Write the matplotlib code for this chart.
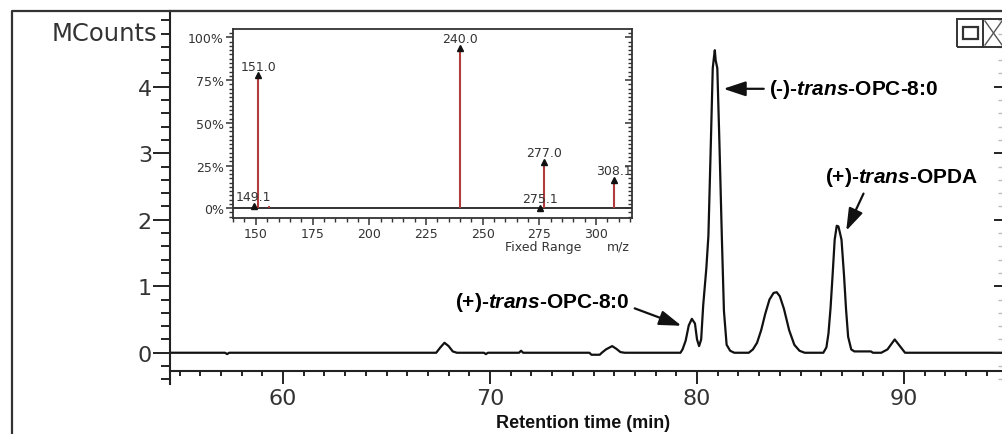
import matplotlib
matplotlib.use("Agg")
import matplotlib.pyplot as plt
from matplotlib.ticker import MultipleLocator, FixedLocator
from matplotlib.lines import Line2D
from matplotlib.patches import Rectangle

plt.rcParams['mathtext.fontset'] = 'custom'
plt.rcParams['mathtext.rm'] = 'Liberation Sans:bold'
plt.rcParams['mathtext.it'] = 'Liberation Sans:italic:bold'
plt.rcParams['mathtext.bf'] = 'Liberation Sans:bold'

# ---------------- data ----------------
rt = [54.5, 57.2, 57.3, 57.4, 67.4, 67.6, 67.8, 68.0, 68.2, 68.4,
      69.7, 69.8, 69.9, 71.4, 71.5, 71.6, 74.8, 74.9, 75.3, 75.4,
      75.6, 75.9, 76.1, 76.3, 76.5, 79.2, 79.3, 79.45, 79.6, 79.75,
      79.9, 80.0, 80.1, 80.2, 80.3, 80.45, 80.55, 80.67, 80.76, 80.82,
      80.86, 80.9, 80.98, 81.08, 81.2, 81.3, 81.43, 81.6, 81.8, 82.5,
      82.7, 82.9, 83.1, 83.3, 83.5, 83.7, 83.85, 84.0, 84.2, 84.45,
      84.7, 84.95, 85.2, 86.1, 86.25, 86.35, 86.45, 86.55, 86.65, 86.75,
      86.83, 86.9, 86.98, 87.1, 87.2, 87.3, 87.45, 87.6, 88.4, 88.5,
      88.9, 89.2, 89.55, 89.8, 90.05, 94.9]
mcounts = [0.0, 0.0, -0.02, 0.0, 0.0, 0.08, 0.15, 0.1, 0.02, 0.0,
           0.0, -0.02, 0.0, 0.0, 0.03, 0.0, 0.0, -0.03, -0.03, 0.0,
           0.05, 0.1, 0.06, 0.01, 0.0, 0.0, 0.05, 0.18, 0.41, 0.51,
           0.44, 0.2, 0.1, 0.2, 0.72, 1.27, 1.76, 3.18, 4.28, 4.45,
           4.55, 4.4, 4.28, 3.18, 1.73, 0.63, 0.12, 0.03, 0.0, 0.0,
           0.05, 0.15, 0.34, 0.59, 0.8, 0.9, 0.91, 0.85, 0.66, 0.34,
           0.12, 0.03, 0.0, 0.0, 0.08, 0.29, 0.67, 1.17, 1.7, 1.91,
           1.9, 1.81, 1.7, 1.17, 0.65, 0.24, 0.05, 0.02, 0.02, 0.0,
           0.0, 0.05, 0.2, 0.1, 0.0, 0.0]

rt_ticks = [60, 70, 80, 90]
mcount_ticks = [0, 1, 2, 3, 4]

mz_peaks = [149.1, 151.0, 240.0, 275.1, 277.0, 308.1]
rel_abund = [1.5, 77.7, 93.7, 0.3, 27.3, 16.6]
mz_minor = [155.9]
rel_minor = [1.2]
mz_ticks = [150, 175, 200, 225, 250, 275, 300]
pct_ticks = [0, 25, 50, 75, 100]

W, H = 1002, 435
def fx(px):
    return px / W
def fy(py):
    return 1 - py / H

fig = plt.figure(figsize=(W / 100, H / 100), dpi=100)
fig.patch.set_facecolor('white')

dark = '#222222'

# ---------------- main chromatogram ----------------
ax = fig.add_axes([fx(170), fy(385), fx(1004) - fx(170), fy(12) - fy(385)])
ax.plot(rt, mcounts, color='#111111', lw=1.6)
ax.set_xlim(54.54, 94.83)
ax.set_ylim(-0.47, 5.14)
ax.spines['bottom'].set_position(('data', -0.27))
for s in ax.spines.values():
    s.set_color(dark)
    s.set_linewidth(1.5)
ax.xaxis.set_major_locator(FixedLocator(rt_ticks))
ax.xaxis.set_minor_locator(MultipleLocator(1))
ax.yaxis.set_major_locator(FixedLocator(mcount_ticks))
ax.yaxis.set_minor_locator(MultipleLocator(0.2))
ax.tick_params(axis='x', which='major', direction='out', length=9.4, width=1.4,
               labelsize=16, pad=3, colors=dark)
ax.tick_params(axis='x', which='minor', direction='out', length=3.8, width=1.4, colors=dark)
ax.tick_params(axis='y', which='major', direction='out', length=12, width=1.4,
               labelsize=16, pad=1, colors=dark)
ax.tick_params(axis='y', which='minor', direction='out', length=6.5, width=1.4, colors=dark)
for lab in ax.get_xticklabels() + ax.get_yticklabels():
    lab.set_color('#333333')

axr = ax.twinx()
axr.set_ylim(ax.get_ylim())
axr.yaxis.set_major_locator(FixedLocator(mcount_ticks))
axr.yaxis.set_minor_locator(MultipleLocator(0.2))
axr.tick_params(axis='y', which='major', direction='in', length=7, width=1.4,
                labelright=False, colors=dark)
axr.tick_params(axis='y', which='minor', direction='in', length=4, width=1,
                colors='#bbbbbb')
for s in axr.spines.values():
    s.set_visible(False)

ax.text(-0.015, (354 - 34) / 66.5, 'MCounts', transform=ax.get_yaxis_transform(),
        ha='right', va='center', fontsize=17.5, color='#333333')

def tx(px):
    return 60 + (px - 283) / 20.73
def ty(py):
    return (354 - py) / 66.5

arrow = dict(arrowstyle='-|>,head_length=0.9,head_width=0.3', color='#111111', lw=1.6,
             shrinkA=2, shrinkB=0)
ax.annotate('(-)-$\\it{trans}$-OPC-8:0', xy=(tx(724), ty(90)), xytext=(tx(770), ty(90)),
            ha='left', va='center', fontsize=15, fontweight='bold',
            fontfamily='Liberation Sans', arrowprops=dict(arrow, relpos=(0, 0.5)))
ax.annotate('(+)-$\\it{trans}$-OPDA', xy=(tx(847), ty(232)), xytext=(tx(902), ty(178)),
            ha='center', va='center', fontsize=15, fontweight='bold',
            fontfamily='Liberation Sans', arrowprops=dict(arrow, relpos=(0.27, 0)))
ax.annotate('(+)-$\\it{trans}$-OPC-8:0', xy=(tx(682), ty(327)), xytext=(tx(455), ty(303)),
            ha='left', va='center', fontsize=15, fontweight='bold',
            fontfamily='Liberation Sans', arrowprops=dict(arrow, relpos=(1, 0.3)))

fig.text(fx(583), fy(424), 'Retention time (min)', ha='center', va='center',
         fontsize=13, fontweight='bold', fontfamily='Liberation Sans', color='#111111')

# ---------------- inset mass spectrum ----------------
ai = fig.add_axes([fx(232.7), fy(219.3), fx(632.3) - fx(232.7), fy(30) - fy(219.3)])
ai.set_facecolor('white')
ai.set_xlim(139.8, 316)
ai.set_ylim(-5.9, 104.9)
ai.axhline(0, color=dark, lw=1.3)
ai.vlines(mz_peaks, 0, rel_abund, color='#b23b3b', lw=1.5)
ai.vlines(mz_minor, 0, rel_minor, color='#b23b3b', lw=1.5)
ai.plot(mz_peaks, rel_abund, linestyle='none', marker='^', ms=4, color='#111111')
for m, r in zip(mz_peaks, rel_abund):
    ai.annotate(f'{m:.1f}', (m, r), xytext=(0, 2), textcoords='offset points',
                ha='center', va='bottom', fontsize=9, color='#333333')
for s in ai.spines.values():
    s.set_color('#333333')
    s.set_linewidth(1.3)
ai.xaxis.set_major_locator(FixedLocator(mz_ticks))
ai.xaxis.set_minor_locator(MultipleLocator(5))
ai.yaxis.set_major_locator(FixedLocator(pct_ticks))
ai.yaxis.set_minor_locator(MultipleLocator(2.5))
ai.set_yticklabels([f'{p}%' for p in pct_ticks])
ai.tick_params(axis='both', which='major', direction='out', length=5, width=1.1,
               labelsize=9, pad=1.5, colors='#333333')
ai.tick_params(axis='both', which='minor', direction='out', length=2.8, width=1.0,
               colors='#333333')
air = ai.twinx()
air.set_ylim(ai.get_ylim())
air.yaxis.set_major_locator(FixedLocator(pct_ticks))
air.yaxis.set_minor_locator(MultipleLocator(2.5))
air.tick_params(axis='y', which='major', direction='in', length=5, width=1.1,
                labelright=False, colors='#333333')
air.tick_params(axis='y', which='minor', direction='in', length=2.8, width=1.0,
                colors='#333333')
for s in air.spines.values():
    s.set_visible(False)
ai.text(fx(543), fy(251), 'Fixed Range', transform=fig.transFigure, ha='center',
        va='baseline', fontsize=9, color='#333333')
ai.text(fx(618), fy(251), 'm/z', transform=fig.transFigure, ha='center',
        va='baseline', fontsize=9, color='#333333')

# ---------------- window frame decorations ----------------
fig.add_artist(Line2D([fx(12), fx(12), fx(1002)], [fy(435), fy(12), fy(12)],
                      color='#333333', lw=1.6, transform=fig.transFigure))
fig.add_artist(Rectangle((fx(957), fy(48)), fx(1004) - fx(957), fy(20) - fy(48),
                         fill=False, ec='#333333', lw=1.4, transform=fig.transFigure))
fig.add_artist(Rectangle((fx(963), fy(40)), fx(978) - fx(963), fy(28) - fy(40),
                         fill=False, ec='#333333', lw=1.6, transform=fig.transFigure))
fig.add_artist(Line2D([fx(983), fx(983)], [fy(20), fy(48)], color='#333333', lw=1.4,
                      transform=fig.transFigure))
fig.add_artist(Line2D([fx(985), fx(1002)], [fy(22), fy(46)], color='#555555', lw=1.0,
                      transform=fig.transFigure))
fig.add_artist(Line2D([fx(985), fx(1002)], [fy(46), fy(22)], color='#555555', lw=1.0,
                      transform=fig.transFigure))

fig.savefig('out.png', dpi=100, facecolor='white')
